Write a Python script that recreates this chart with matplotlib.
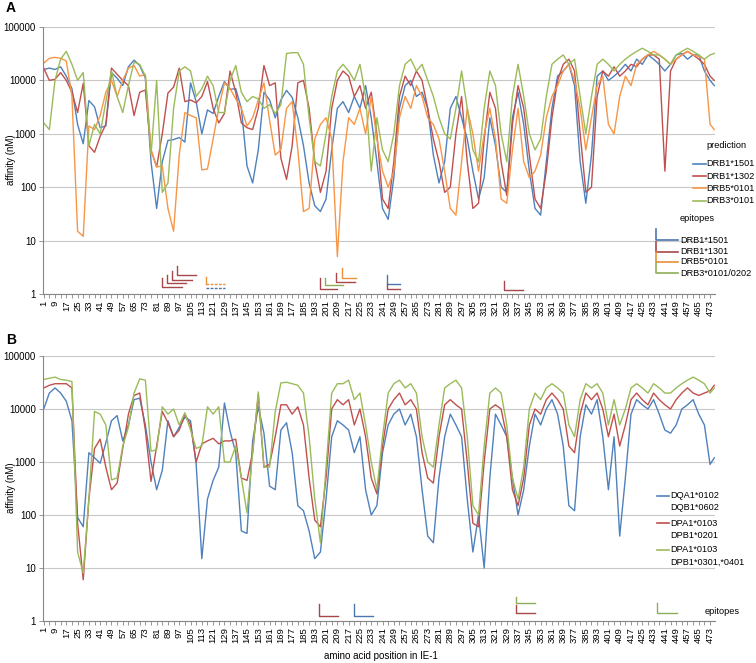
import matplotlib
matplotlib.use("Agg")
import matplotlib.pyplot as plt
from matplotlib.lines import Line2D

plt.rcParams['font.family'] = ['Liberation Sans', 'DejaVu Sans']

W, H = 756, 663

# ---------------- data ----------------
positions = list(range(1, 474, 4)) + [476]

a_drb1_1501 = [16000,17000,16000,18000,12000,7000,1500,650,4200,3200,1300,1400,14000,11000,8000,18000,
               24000,19000,11000,300,40,300,750,780,850,700,9000,4000,1000,2800,2400,5000,
               9500,6800,7000,3000,250,120,500,6000,4300,2000,4300,6500,4800,2000,600,120,
               45,35,60,500,3000,4000,2500,5000,3000,8000,2000,300,40,25,150,3000,
               8000,10000,5000,6000,3000,400,120,300,3000,5000,2000,800,200,60,150,2000,
               600,100,80,2000,6000,1500,200,40,30,300,3000,12000,15000,20000,8000,300,
               50,400,12000,15000,10000,12000,15000,20000,15000,25000,20000,30000,25000,20000,15000,20000,
               30000,32000,25000,30000,30000,15000,10000,8000]
a_drb1_1302 = [17000,10000,10500,14000,10000,6000,2500,8800,600,450,900,1500,17000,13000,10000,8000,
               2200,6000,6600,500,240,1000,5800,7500,17000,4000,4300,3800,5000,9500,3000,1600,
               2400,15000,6000,1600,1300,1200,3000,19000,8000,9000,350,140,600,9000,10000,3000,
               300,80,200,3000,10000,15000,12000,5000,8000,3000,6000,1000,60,40,300,5000,
               12000,8000,15000,10000,3000,800,300,80,100,1000,5000,300,40,50,800,6000,
               3000,300,70,1500,8000,3000,400,60,40,200,2000,10000,20000,25000,15000,1000,
               80,100,5000,15000,12000,18000,12000,15000,20000,18000,25000,30000,30000,25000,200,15000,
               25000,30000,35000,30000,25000,20000,12000,10000]
a_drb5_0101 = [21000,26000,27000,26000,23000,5000,15,12,1400,1200,2200,6000,10000,5000,10000,17000,
               19000,12000,13000,500,240,250,40,15,400,2500,2200,2000,210,220,800,3000,
               9000,7000,4500,3000,1400,2000,4300,9000,1800,400,500,3000,4000,500,35,40,
               800,1500,2000,800,5,300,2000,1500,3000,1000,5000,800,200,100,200,2000,
               5000,3000,8000,5000,2000,1500,800,200,40,30,300,3000,1000,200,1000,3000,
               800,60,50,500,3000,300,150,200,400,2000,5000,8000,15000,20000,10000,3000,
               500,2000,8000,12000,1500,1000,5000,12000,8000,20000,25000,30000,35000,30000,25000,20000,
               25000,30000,35000,30000,28000,25000,1500,1200]
a_drb3_0101 = [1600,1200,10000,25000,35000,20000,10000,14000,600,1500,1000,4000,15000,5000,2500,8000,
               22000,20000,12000,400,10000,80,120,3000,15000,18000,15000,5000,7000,12000,8000,2500,
               2500,10000,19000,6000,4000,5000,4500,3000,3500,2400,3500,32000,33000,33000,20000,2000,
               300,250,1000,5000,15000,20000,15000,10000,20000,5000,200,2000,500,300,1000,8000,
               20000,25000,15000,20000,10000,5000,2000,1000,800,3000,15000,3000,500,300,3000,15000,
               8000,1000,300,5000,20000,5000,1000,500,800,5000,20000,25000,30000,20000,25000,5000,
               1000,5000,20000,25000,20000,15000,20000,25000,30000,35000,40000,35000,30000,30000,25000,20000,
               30000,35000,40000,35000,30000,25000,30000,32000]

b_dq0602 = [10000,20000,25000,20000,14000,6000,90,60,1500,1200,950,2300,6000,7500,2500,5000,
            15000,16000,5000,1000,300,700,6000,3000,4500,7000,6000,900,15,200,450,800,
            13000,3800,1500,50,45,2500,11000,3500,350,300,4000,5500,1500,150,120,50,
            15,20,200,3000,6000,5000,4000,1500,3000,300,100,150,1500,5000,8000,10000,
            5000,8000,3000,300,40,30,500,3000,8000,5000,3000,200,20,100,10,500,
            8000,5000,3000,500,100,300,2000,8000,5000,10000,15000,8000,2000,150,120,3000,
            12000,8000,15000,3000,300,3000,40,500,8000,15000,12000,10000,15000,8000,4000,3500,
            5000,10000,12000,15000,8000,5000,900,1200]
b_dp0201 = [25000,28000,30000,30000,30000,25000,70,6,200,1800,2700,800,300,400,1800,8000,
            18000,20000,4000,430,2000,9000,5500,3000,4000,8000,5000,1000,2200,2500,2800,2200,
            2500,2500,2700,500,450,1500,19000,800,900,3000,12000,12000,8000,11000,5000,500,
            80,60,500,10000,15000,12000,15000,5000,10000,3000,500,250,2000,10000,15000,20000,
            12000,15000,10000,1500,500,400,3000,12000,15000,12000,10000,1000,70,60,1000,10000,
            12000,10000,3000,300,150,500,5000,10000,8000,15000,20000,15000,10000,2000,1500,8000,
            20000,15000,20000,10000,3000,8000,2000,5000,15000,20000,15000,12000,20000,15000,12000,10000,
            15000,20000,25000,20000,18000,20000,22000,28000]
b_dp0301 = [36000,38000,40000,36000,35000,33000,20,8,200,9000,8000,5000,460,500,2000,4500,
            20000,37000,35000,1600,1700,11000,8000,10000,5000,8500,4000,1800,2000,11000,8000,11000,
            1000,1000,2000,500,110,1500,21000,800,800,9000,31000,32000,30000,28000,20000,3000,
            200,30,800,20000,30000,30000,35000,15000,20000,5000,1000,300,3000,20000,30000,35000,
            25000,30000,20000,3000,1000,800,5000,25000,30000,35000,25000,3000,150,100,2000,20000,
            25000,20000,5000,500,200,800,10000,20000,15000,25000,30000,25000,20000,5000,3000,15000,
            30000,25000,30000,20000,5000,15000,5000,10000,25000,30000,25000,20000,30000,25000,20000,20000,
            25000,30000,35000,40000,35000,30000,20000,25000]

a_labels = ['DRB1*1501', 'DRB1*1302', 'DRB5*0101', 'DRB3*0101']
b_labels = [['DQA1*0102', 'DQB1*0602'], ['DPA1*0103', 'DPB1*0201'], ['DPA1*0103', 'DPB1*0301,*0401']]
epi_a_labels = ['DRB1*1501', 'DRB1*1301', 'DRB5*0101', 'DRB3*0101/0202']

C_BLUE, C_RED, C_ORANGE, C_GREEN = '#4F81BD', '#C0504D', '#F79646', '#9BBB59'
E_BLUE, E_RED, E_ORANGE, E_GREEN = '#4A76AE', '#A8474A', '#E8913A', '#8DAE57'

# epitopes: (start, end, low level, high level, colour key)
epi_a = [(85, 99, 1.34, 1.97, 'r'), (88, 102, 1.59, 2.27, 'r'),
         (91.6, 106, 1.83, 2.73, 'r'), (95.6, 109, 2.27, 3.34, 'r'),
         (196.7, 209, 1.22, 2.0, 'r'), (200, 213, 1.47, 1.99, 'g'),
         (208, 221.5, 1.70, 2.5, 'r'), (212, 222, 1.97, 3.03, 'o'),
         (244, 253.3, 1.52, 2.27, 'b'), (244, 253.3, 1.22, 1.52, 'r'),
         (327.2, 340.7, 1.19, 1.77, 'r')]
epi_a_dashed = [(115.7, 129.4, 1.52, 2.11, 'o'), (115.7, 129.4, 1.28, 1.28, 'b')]
epi_b = [(196.2, 209.6, 1.26, 2.07, 'r'), (220.8, 234.4, 1.26, 2.07, 'b'),
         (335.5, 349, 2.17, 2.89, 'g'), (335.5, 349, 1.40, 2.01, 'r'),
         (435.6, 449.3, 1.40, 2.17, 'g')]
ecol = {'b': E_BLUE, 'r': E_RED, 'o': E_ORANGE, 'g': E_GREEN}

FS = 6.6

fig = plt.figure(figsize=(W / 100, H / 100), dpi=100)


def fx(px):
    return px / W


def fy(py):
    return 1 - py / H


def style_axes(ax):
    ax.set_yscale('log')
    ax.set_ylim(1, 100000)
    ax.set_xlim(0.5, 476.5)
    ax.set_yticks([1, 10, 100, 1000, 10000, 100000])
    ax.set_yticklabels(['1', '10', '100', '1000', '10000', '100000'])
    ax.yaxis.set_minor_locator(matplotlib.ticker.NullLocator())
    xt = list(range(1, 474, 8))
    ax.set_xticks(xt)
    ax.set_xticklabels([str(v) for v in xt], rotation=90, fontsize=6.8)
    ax.set_xticks(list(range(5, 477, 8)), minor=True)
    ax.tick_params(axis='x', which='both', length=3, width=0.6, color='#868686', pad=1.5)
    ax.tick_params(axis='y', length=3, width=0.6, color='#868686', labelsize=7, pad=2)
    for s in ['top', 'right']:
        ax.spines[s].set_visible(False)
    for s in ['left', 'bottom']:
        ax.spines[s].set_color('#868686')
        ax.spines[s].set_linewidth(0.8)
    ax.grid(axis='y', color='#C8C8C8', linewidth=0.8)
    ax.set_axisbelow(True)
    ax.patch.set_alpha(0)


# ---------- Panel A ----------
axA = fig.add_axes([fx(43), fy(294), fx(672), 267 / H])
style_axes(axA)
for vals, c in zip([a_drb1_1501, a_drb1_1302, a_drb5_0101, a_drb3_0101],
                   [C_BLUE, C_RED, C_ORANGE, C_GREEN]):
    axA.plot(positions, vals, color=c, lw=1.0)
for s, e, lo, hi, ck in epi_a:
    axA.plot([s, s, e], [hi, lo, lo], color=ecol[ck], lw=1.0)
for s, e, lo, hi, ck in epi_a_dashed:
    if hi > lo:
        axA.plot([s, s], [hi, lo], color=ecol[ck], lw=1.0)
    axA.plot([s, e], [lo, lo], color=ecol[ck], lw=1.0, ls=(0, (2, 1)))

# ---------- Panel B ----------
axB = fig.add_axes([fx(43), fy(621), fx(672), 265 / H])
style_axes(axB)
for vals, c in zip([b_dq0602, b_dp0201, b_dp0301], [C_BLUE, C_RED, C_GREEN]):
    axB.plot(positions, vals, color=c, lw=1.0)
for s, e, lo, hi, ck in epi_b:
    axB.plot([s, s, e], [hi, lo, lo], color=ecol[ck], lw=1.0)

# axis titles
fig.text(fx(11), fy(160), 'affinity (nM)', fontsize=7, rotation=90, va='center', ha='center')
fig.text(fx(11), fy(488), 'affinity (nM)', fontsize=7, rotation=90, va='center', ha='center')
fig.text(fx(381), fy(656), 'amino acid position in IE-1', fontsize=7, va='center', ha='center')

# panel letters
fig.text(fx(6), fy(8), 'A', fontsize=10, fontweight='bold', va='center', ha='left')
fig.text(fx(6), fy(340), 'B', fontsize=10, fontweight='bold', va='center', ha='left')

# legend A: prediction
fig.text(fx(706), fy(145), 'prediction', fontsize=FS, va='center', ha='left')
for i, (lab, c) in enumerate(zip(a_labels, [C_BLUE, C_RED, C_ORANGE, C_GREEN])):
    yy = 164 + i * 12.2
    fig.add_artist(Line2D([fx(693), fx(706)], [fy(yy), fy(yy)], color=c, lw=1.2))
    fig.text(fx(706), fy(yy), lab, fontsize=FS, va='center', ha='left')

# legend A: epitopes
fig.text(fx(680), fy(219), 'epitopes', fontsize=FS, va='center', ha='left')
ey = [(229, 240), (242, 252), (252, 262), (263, 273)]
for (top, bot), lab, c in zip(ey, epi_a_labels, [E_BLUE, E_RED, E_ORANGE, E_GREEN]):
    fig.add_artist(Line2D([fx(656), fx(656), fx(678)], [fy(top), fy(bot), fy(bot)], color=c, lw=1.2))
    fig.text(fx(680), fy(bot), lab, fontsize=FS, va='center', ha='left')

# legend B
for i, (lab, c) in enumerate(zip(b_labels, [C_BLUE, C_RED, C_GREEN])):
    yy = 496 + i * 27
    fig.add_artist(Line2D([fx(657), fx(669)], [fy(yy), fy(yy)], color=c, lw=1.2))
    fig.text(fx(670), fy(yy), lab[0], fontsize=FS, va='center', ha='left')
    fig.text(fx(670), fy(yy + 12), lab[1], fontsize=FS, va='center', ha='left')
fig.text(fx(705), fy(611), 'epitopes', fontsize=FS, va='center', ha='left')

fig.savefig('out.png', dpi=100)
